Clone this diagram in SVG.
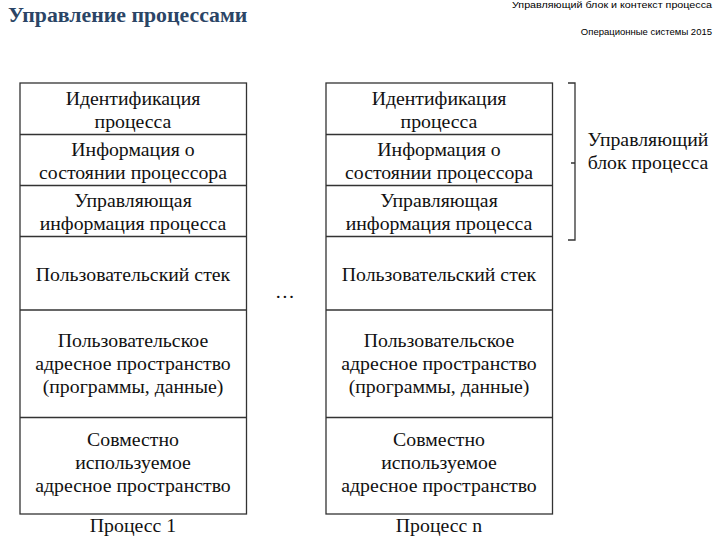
<svg xmlns="http://www.w3.org/2000/svg" width="720" height="540" viewBox="0 0 720 540">
<style>
.t{font-family:"Liberation Serif","Times New Roman",serif;font-size:19.8px;fill:#111;text-anchor:middle}
.b{fill:#fff;stroke:#333;stroke-width:1.3}
.d{stroke:#333;stroke-width:1.3}
.h{font-family:"Liberation Sans",Arial,sans-serif;font-size:9.5px;fill:#000;text-anchor:end}
</style>
<rect width="720" height="540" fill="#fff"/>
<text x="8" y="22" font-family="Liberation Serif,serif" font-size="21.8" font-weight="bold" fill="#2b4566">Управление процессами</text>
<text class="h" x="712" y="8" textLength="200" lengthAdjust="spacingAndGlyphs">Управляющий блок и контекст процесса</text>
<text class="h" x="712" y="35">Операционные системы 2015</text>

<g id="process1">
<rect class="b" x="20" y="83" width="226.5" height="431"/>
<line class="d" x1="20" y1="134.5" x2="246.5" y2="134.5"/>
<line class="d" x1="20" y1="185.5" x2="246.5" y2="185.5"/>
<line class="d" x1="20" y1="236.5" x2="246.5" y2="236.5"/>
<line class="d" x1="20" y1="310" x2="246.5" y2="310"/>
<line class="d" x1="20" y1="417.5" x2="246.5" y2="417.5"/>
<text class="t" x="133" y="105">Идентификация</text>
<text class="t" x="133" y="128">процесса</text>
<text class="t" x="133" y="156">Информация о</text>
<text class="t" x="133" y="179">состоянии процессора</text>
<text class="t" x="133" y="207">Управляющая</text>
<text class="t" x="133" y="230">информация процесса</text>
<text class="t" x="133" y="281">Пользовательский стек</text>
<text class="t" x="133" y="347">Пользовательское</text>
<text class="t" x="133" y="370">адресное пространство</text>
<text class="t" x="133" y="393">(программы, данные)</text>
<text class="t" x="133" y="446">Совместно</text>
<text class="t" x="133" y="469">используемое</text>
<text class="t" x="133" y="492">адресное пространство</text>
<text class="t" x="133" y="532">Процесс 1</text>
</g>

<g id="processN">
<rect class="b" x="326" y="83" width="226.5" height="431"/>
<line class="d" x1="326" y1="134.5" x2="552.5" y2="134.5"/>
<line class="d" x1="326" y1="185.5" x2="552.5" y2="185.5"/>
<line class="d" x1="326" y1="236.5" x2="552.5" y2="236.5"/>
<line class="d" x1="326" y1="310" x2="552.5" y2="310"/>
<line class="d" x1="326" y1="417.5" x2="552.5" y2="417.5"/>
<text class="t" x="439" y="105">Идентификация</text>
<text class="t" x="439" y="128">процесса</text>
<text class="t" x="439" y="156">Информация о</text>
<text class="t" x="439" y="179">состоянии процессора</text>
<text class="t" x="439" y="207">Управляющая</text>
<text class="t" x="439" y="230">информация процесса</text>
<text class="t" x="439" y="281">Пользовательский стек</text>
<text class="t" x="439" y="347">Пользовательское</text>
<text class="t" x="439" y="370">адресное пространство</text>
<text class="t" x="439" y="393">(программы, данные)</text>
<text class="t" x="439" y="446">Совместно</text>
<text class="t" x="439" y="469">используемое</text>
<text class="t" x="439" y="492">адресное пространство</text>
<text class="t" x="439" y="532">Процесс n</text>
</g>

<g id="ellipsis">
<text class="t" x="285" y="298" font-size="26">…</text>
</g>

<g id="connectors">
<path d="M568 83 H575 V240 H568 M575 163 H571" fill="none" stroke="#333" stroke-width="1.3"/>
</g>

<g id="pcb-label">
<text class="t" x="648" y="146">Управляющий</text>
<text class="t" x="648" y="169">блок процесса</text>
</g>
</svg>
